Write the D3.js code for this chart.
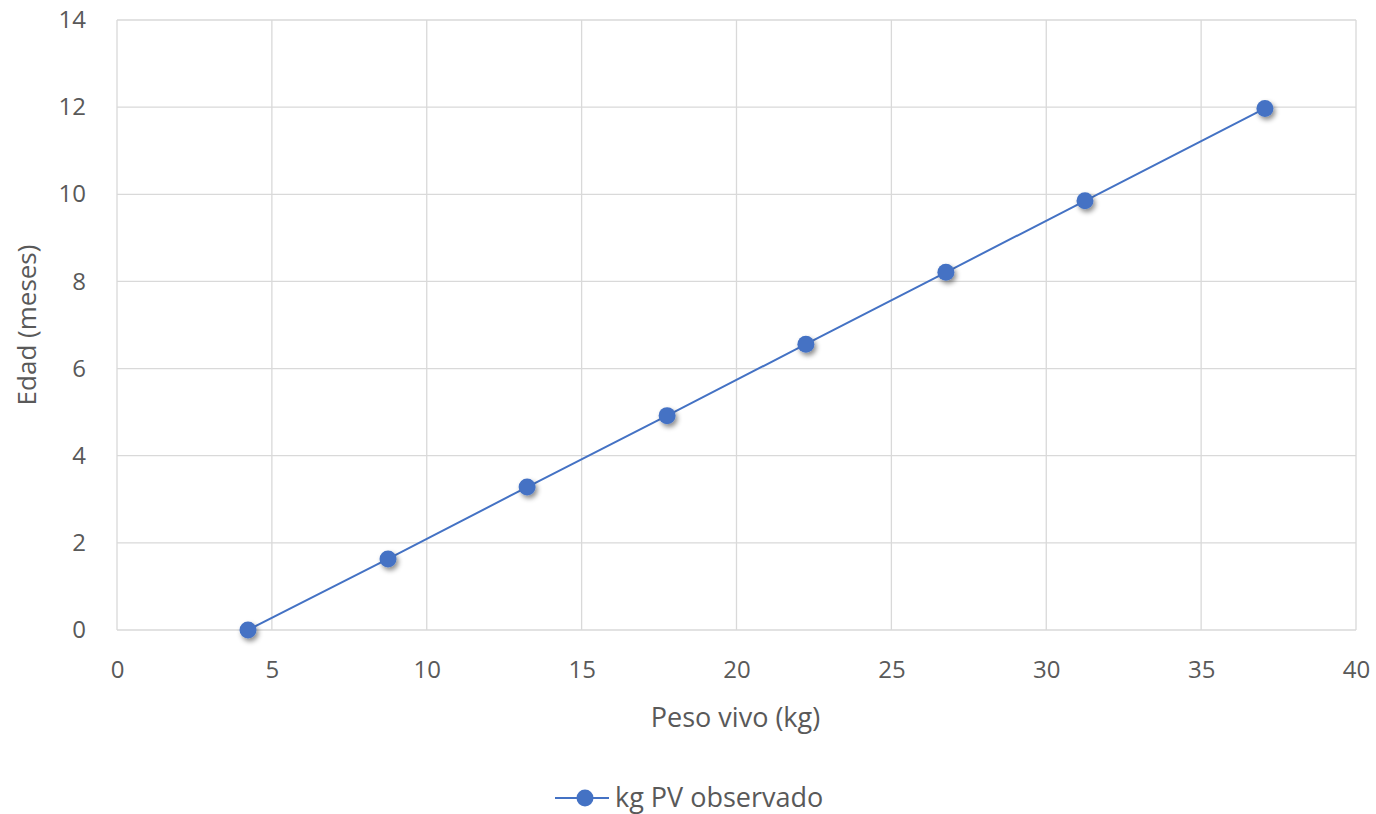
<!DOCTYPE html>
<html><head><meta charset="utf-8">
<script src="https://cdn.jsdelivr.net/npm/d3@7"></script>
<style>body{margin:0;background:#fff}svg{display:block}text{font-family:"Open Sans",sans-serif;fill:#595959}</style>
</head><body><svg id="c" width="1376" height="814"></svg>
<script>
const pesoVivo = [4.23, 8.75, 13.24, 17.76, 22.24, 26.76, 31.25, 37.06];
const edad = [0, 1.63, 3.28, 4.92, 6.56, 8.21, 9.85, 11.97];
const xTicks = [0,5,10,15,20,25,30,35,40];
const yTicks = [0,2,4,6,8,10,12,14];
const seriesName = "kg PV observado";
const xTitle = "Peso vivo (kg)";
const yTitle = "Edad (meses)";

const svg = d3.select("#c");
const L=117,R=1356,T=20,B=630;
const x = d3.scaleLinear().domain([0,40]).range([L,R]);
const y = d3.scaleLinear().domain([0,14]).range([B,T]);
const defs = svg.append("defs");
const f = defs.append("filter").attr("id","sh").attr("x","-50%").attr("y","-50%").attr("width","200%").attr("height","200%");
f.append("feDropShadow").attr("dx",2).attr("dy",3).attr("stdDeviation",2.5).attr("flood-color","#000").attr("flood-opacity",0.45);

const g = svg.append("g");
g.selectAll(".vg").data(xTicks).join("line").attr("x1",d=>x(d)).attr("x2",d=>x(d)).attr("y1",T).attr("y2",B).attr("stroke","#d9d9d9").attr("stroke-width",1.3);
g.selectAll(".hg").data(yTicks).join("line").attr("x1",L).attr("x2",R).attr("y1",d=>y(d)).attr("y2",d=>y(d)).attr("stroke","#d9d9d9").attr("stroke-width",1.3);

const xa = svg.append("g").attr("transform",`translate(0,${B})`).call(d3.axisBottom(x).tickValues(xTicks).tickSize(0).tickPadding(31));
xa.select(".domain").remove();
xa.selectAll("text").attr("font-size",24).attr("font-family","Open Sans").attr("fill","#595959").attr("dy","0.71em");
const ya = svg.append("g").attr("transform",`translate(${L},0)`).call(d3.axisLeft(y).tickValues(yTicks).tickSize(0).tickPadding(31));
ya.select(".domain").remove();
ya.selectAll("text").attr("font-size",24).attr("font-family","Open Sans").attr("fill","#595959");

svg.append("text").attr("x",(L+R)/2 - 1).attr("y",727).attr("text-anchor","middle").attr("font-size",27).text(xTitle);
svg.append("text").attr("transform",`translate(36,${(T+B)/2}) rotate(-90)`).attr("text-anchor","middle").attr("font-size",26).text(yTitle);

const data = pesoVivo.map((v,i)=>[v,edad[i]]);
svg.append("path").datum(data).attr("d",d3.line().x(d=>x(d[0])).y(d=>y(d[1]))).attr("fill","none").attr("stroke","#4472c4").attr("stroke-width",2);
svg.selectAll(".pt").data(data).join("circle").attr("cx",d=>x(d[0])).attr("cy",d=>y(d[1])).attr("r",8.5).attr("fill","#4472c4").attr("filter","url(#sh)");

const lg = svg.append("g");
lg.append("line").attr("x1",555).attr("x2",609).attr("y1",798).attr("y2",798).attr("stroke","#4472c4").attr("stroke-width",2);
lg.append("circle").attr("cx",585).attr("cy",798).attr("r",8.5).attr("fill","#4472c4");
lg.append("text").attr("x",615).attr("y",807).attr("font-size",27).text(seriesName);
</script></body></html>
